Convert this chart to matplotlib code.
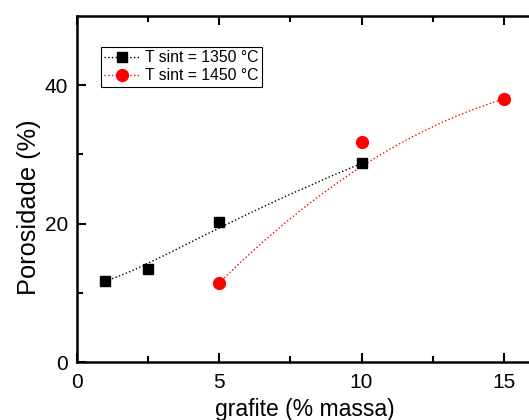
import numpy as np
import matplotlib.pyplot as plt
from matplotlib.path import Path
from matplotlib.patches import PathPatch
from matplotlib.lines import Line2D

plt.rcParams['font.family'] = ['Liberation Sans', 'DejaVu Sans']

# dados
grafite_1350 = [1, 2.5, 5, 10]
poros_1350 = [11.7, 13.5, 20.2, 28.7]
grafite_1450 = [5, 10, 15]
poros_1450 = [11.4, 31.8, 38.0]
rotulos = ['T sint = 1350 °C', 'T sint = 1450 °C']

fig = plt.figure(figsize=(5.29, 4.2), dpi=100)
ax = fig.add_axes([76.5/529, 58/420, 456/529, 346/420])


def curva_bspline(x, y, cor):
    # conexao B-spline (pontos como pontos de controle)
    verts = list(zip(x, y))
    if len(verts) == 4:
        codes = [Path.MOVETO, Path.CURVE4, Path.CURVE4, Path.CURVE4]
    else:
        codes = [Path.MOVETO, Path.CURVE3, Path.CURVE3]
    patch = PathPatch(Path(verts, codes), fill=False, edgecolor=cor,
                      linestyle=':', linewidth=1.0, zorder=2)
    ax.add_patch(patch)


curva_bspline(grafite_1350, poros_1350, 'black')
curva_bspline(grafite_1450, poros_1450, 'red')
ax.plot(grafite_1350, poros_1350, 's', color='black', markersize=7.5, zorder=3)
ax.plot(grafite_1450, poros_1450, 'o', color='red', markersize=8.5, zorder=3)

ax.set_xlim(0, 16)
ax.set_ylim(0, 50)
ax.set_xticks([0, 5, 10, 15])
ax.set_xticks([2.5, 7.5, 12.5], minor=True)
ax.set_yticks([0, 20, 40])
ax.set_yticks([10, 30], minor=True)
ax.tick_params(which='both', direction='in', top=True, right=False,
               labelsize=15, width=1.5)
ax.tick_params(axis='x', which='both', pad=8)
ax.tick_params(axis='y', which='both', pad=6)
ax.tick_params(which='major', length=6.5)
ax.tick_params(which='minor', length=4)
for s in ['left', 'bottom', 'top']:
    ax.spines[s].set_linewidth(1.8)
ax.spines['right'].set_visible(False)

ax.set_xlabel('grafite (% massa)', fontsize=16.5, labelpad=4)
ax.set_ylabel('Porosidade (%)', fontsize=18.3)
ax.yaxis.set_label_coords(-0.078, 0.448)

handles = [Line2D([], [], color='black', linestyle=':', linewidth=1.0,
                  marker='s', markersize=7.5),
           Line2D([], [], color='red', linestyle=':', linewidth=1.0,
                  marker='o', markersize=8.5)]
leg = ax.legend(handles, rotulos, loc='upper left', bbox_to_anchor=(0.054, 0.91),
                fontsize=11.3, fancybox=False, edgecolor='black', framealpha=1,
                borderpad=0.2, labelspacing=0.2, handlelength=2.3,
                handletextpad=0.3, borderaxespad=0)
leg.get_frame().set_linewidth(0.8)

fig.savefig('out.png', dpi=100)
